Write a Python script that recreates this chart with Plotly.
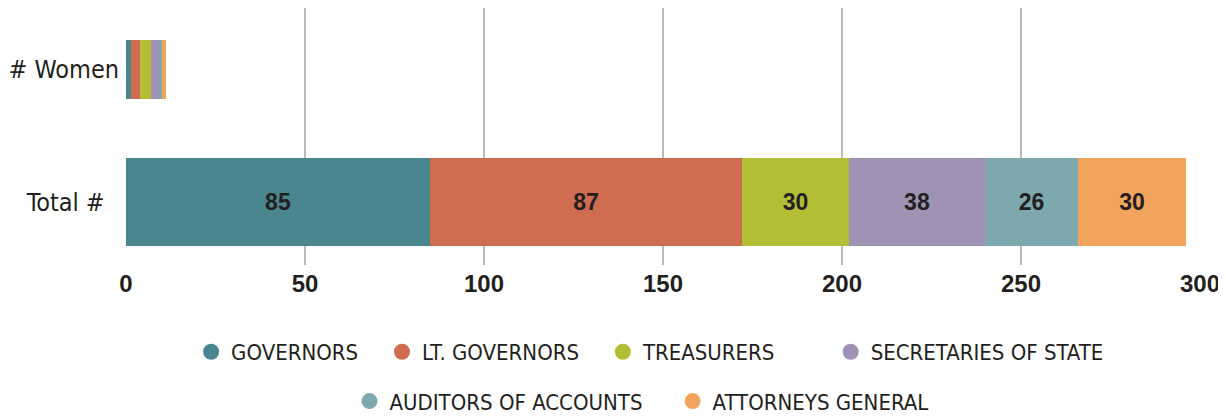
import plotly.graph_objects as go

categories = ["Total #", "# Women"]
offices = ["GOVERNORS", "LT. GOVERNORS", "TREASURERS",
           "SECRETARIES OF STATE", "AUDITORS OF ACCOUNTS", "ATTORNEYS GENERAL"]
total_vals = [85, 87, 30, 38, 26, 30]
women_vals = [1.5, 2.4, 3.2, 2.2, 0.8, 1.0]
colors = ["#4a868f", "#d06c50", "#b3bd35", "#9f92b4", "#7ca8ae", "#f2a45d"]
x_ticks = [0, 50, 100, 150, 200, 250, 300]

TEXT = "#231f20"
NARROW = "DejaVu Sans Condensed, Liberation Sans Narrow, sans-serif"
BOLD = "Liberation Sans, Arial, sans-serif"

# extra gap after each legend label (non-breaking spaces), to spread the rows
legend_pad = [3, 3, 8, 0, 4, 0]
# y labels are centred on each other in the original, not right-aligned
y_pad = [2, 0]

fig = go.Figure()

for name, t, w, c in zip(offices, total_vals, women_vals, colors):
  fig.add_trace(go.Bar(
    y=categories,
    x=[t, w],
    orientation="h",
    width=[0.66, 0.44],
    marker=dict(color=c, line=dict(width=0)),
    text=[str(t), ""],
    textposition="inside",
    insidetextanchor="middle",
    textfont=dict(family=BOLD, size=23, color=TEXT, weight="bold"),
    constraintext="none",
    showlegend=False,
    hoverinfo="x+name",
    name=name,
  ))

# legend entries (circle markers), split over two centred rows
for i, (name, c) in enumerate(zip(offices, colors)):
  fig.add_trace(go.Scatter(
    x=[None], y=[None],
    mode="markers",
    marker=dict(color=c, size=16, symbol="circle"),
    name=name + "\u00a0" * legend_pad[i],
    legend="legend" if i < 4 else "legend2",
  ))

legend_common = dict(
  orientation="h",
  traceorder="normal",
  xanchor="center",
  yanchor="middle",
  yref="container",
  font=dict(family=NARROW, size=22, color=TEXT),
  bgcolor="rgba(0,0,0,0)",
  borderwidth=0,
  itemclick=False,
)

# page has an 8px body margin, so the figure is sized to fit the window
fig.update_layout(
  width=1218,
  height=408,
  margin=dict(l=118, r=26, t=0, b=151, autoexpand=False),
  plot_bgcolor="white",
  paper_bgcolor="white",
  barmode="stack",
  bargap=0,
  legend=dict(x=0.488, y=0.157, **legend_common),
  legend2=dict(x=0.48, y=0.036, **legend_common),
  xaxis=dict(
    range=[0, 300],
    tickvals=x_ticks,
    showgrid=True,
    gridcolor="#bdb8b4",
    gridwidth=2,
    zeroline=False,
    showline=False,
    ticks="",
    tickfont=dict(family=BOLD, size=24, color=TEXT, weight="bold"),
    ticklabelstandoff=2,
    automargin=False,
  ),
  yaxis=dict(
    type="category",
    categoryorder="array",
    categoryarray=categories,
    tickvals=categories,
    ticktext=[c + "\u00a0" * p for c, p in zip(categories, y_pad)],
    range=[-0.47, 1.46],
    showgrid=False,
    zeroline=False,
    showline=False,
    ticks="",
    tickfont=dict(family=NARROW, size=25, color=TEXT),
    ticklabelstandoff=6,
    automargin=False,
  ),
)

fig.write_html("out.html")
